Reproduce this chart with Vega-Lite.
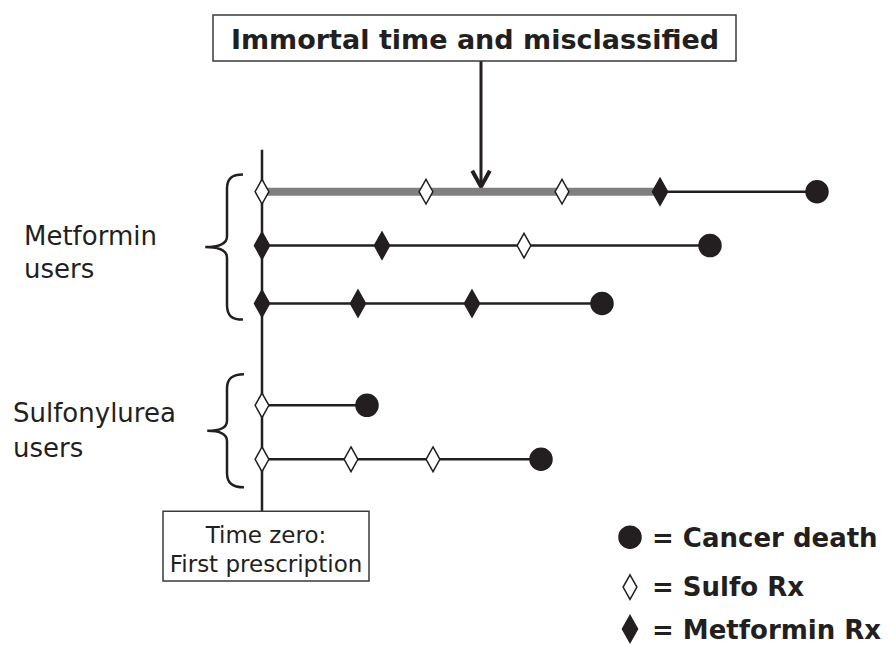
{
  "$schema": "https://vega.github.io/schema/vega-lite/v6.json",
  "width": 891,
  "height": 646,
  "padding": 0,
  "autosize": {"type": "fit", "contains": "padding"},
  "background": "white",
  "config": {"view": {"stroke": null}},
  "encoding": {
    "x": {"field": "t", "type": "quantitative", "scale": {"domain": [-262, 629], "nice": false, "zero": false}, "axis": null},
    "y": {"field": "y", "type": "quantitative", "scale": {"domain": [0, 646], "reverse": true, "nice": false, "zero": false}, "axis": null}
  },
  "layer": [
    {
      "data": {"values": [{"t": 0, "y": 150, "y2": 512}]},
      "mark": {"type": "rule", "color": "#231f20", "strokeWidth": 2.5},
      "encoding": {"y2": {"field": "y2"}}
    },
    {
      "data": {"values": [
        {"t": 219, "y": 61, "y2": 184}
      ]},
      "mark": {"type": "rule", "color": "#231f20", "strokeWidth": 3},
      "encoding": {"y2": {"field": "y2"}}
    },
    {
      "data": {"values": [{"t": 219, "y": 187}]},
      "mark": {"type": "point", "shape": "M-0.55,-1L0,0L0.55,-1", "size": 1024, "filled": false, "color": "#231f20", "strokeWidth": 4, "opacity": 1, "strokeJoin": "miter"}
    },
    {
      "data": {"values": [{"row": 1, "t": 0, "t2": 400, "y": 192}]},
      "mark": {"type": "rule", "color": "#7f7f7f", "strokeWidth": 8},
      "encoding": {"x2": {"field": "t2"}}
    },
    {
      "data": {"values": [
        {"row": 1, "t": 400, "t2": 555, "y": 192},
        {"row": 2, "t": 0, "t2": 448, "y": 246},
        {"row": 3, "t": 0, "t2": 340, "y": 304},
        {"row": 4, "t": 0, "t2": 105, "y": 406},
        {"row": 5, "t": 0, "t2": 279, "y": 460}
      ]},
      "mark": {"type": "rule", "color": "#231f20", "strokeWidth": 2.5},
      "encoding": {"x2": {"field": "t2"}}
    },
    {
      "data": {"values": [{"group": "Metformin users", "t": -35, "y": 247.5}]},
      "mark": {"type": "point", "shape": "M0.22,-1C0.07,-1 0,-0.95 0,-0.8L0,-0.15C0,-0.05 -0.1,0 -0.3,0C-0.1,0 0,0.05 0,0.15L0,0.8C0,0.95 0.07,1 0.22,1", "size": 21025, "filled": false, "color": "#231f20", "strokeWidth": 2.5, "opacity": 1}
    },
    {
      "data": {"values": [{"group": "Sulfonylurea users", "t": -35, "y": 431.5}]},
      "mark": {"type": "point", "shape": "M0.3,-1C0.1,-1 0,-0.93 0,-0.75L0,-0.18C0,-0.06 -0.12,0 -0.35,0C-0.12,0 0,0.06 0,0.18L0,0.75C0,0.93 0.1,1 0.3,1", "size": 12769, "filled": false, "color": "#231f20", "strokeWidth": 2.5, "opacity": 1}
    },
    {
      "data": {"values": [
        {"box": "top", "t": -49, "t2": 474, "y": 15, "y2": 61},
        {"box": "bottom", "t": -99, "t2": 107, "y": 512, "y2": 582}
      ]},
      "mark": {"type": "rect", "fill": "white", "stroke": "#3a3a3a", "strokeWidth": 1.5},
      "encoding": {"x2": {"field": "t2"}, "y2": {"field": "y2"}}
    },
    {
      "data": {"values": [
        {"row": 1, "t": 0, "y": 192, "event": "sulfo"},
        {"row": 1, "t": 164, "y": 192, "event": "sulfo"},
        {"row": 1, "t": 300, "y": 192, "event": "sulfo"},
        {"row": 1, "t": 398, "y": 192, "event": "metformin"},
        {"row": 1, "t": 555, "y": 192, "event": "death"},
        {"row": 2, "t": 0, "y": 246, "event": "metformin"},
        {"row": 2, "t": 120, "y": 246, "event": "metformin"},
        {"row": 2, "t": 262, "y": 246, "event": "sulfo"},
        {"row": 2, "t": 448, "y": 246, "event": "death"},
        {"row": 3, "t": 0, "y": 304, "event": "metformin"},
        {"row": 3, "t": 96, "y": 304, "event": "metformin"},
        {"row": 3, "t": 210, "y": 304, "event": "metformin"},
        {"row": 3, "t": 340, "y": 304, "event": "death"},
        {"row": 4, "t": 0, "y": 406, "event": "sulfo"},
        {"row": 4, "t": 105, "y": 406, "event": "death"},
        {"row": 5, "t": 0, "y": 460, "event": "sulfo"},
        {"row": 5, "t": 89, "y": 460, "event": "sulfo"},
        {"row": 5, "t": 171, "y": 460, "event": "sulfo"},
        {"row": 5, "t": 279, "y": 460, "event": "death"}
      ]},
      "mark": {"type": "point", "filled": true, "stroke": "#231f20", "strokeWidth": 1.5, "opacity": 1},
      "encoding": {
        "shape": {"field": "event", "type": "nominal", "scale": {"domain": ["death", "sulfo", "metformin"], "range": ["circle", "M0,-1L0.56,0L0,1L-0.56,0Z", "M0,-1L0.56,0L0,1L-0.56,0Z"]}, "legend": null},
        "fill": {"field": "event", "type": "nominal", "scale": {"domain": ["death", "sulfo", "metformin"], "range": ["#231f20", "#ffffff", "#231f20"]}, "legend": null},
        "size": {"field": "event", "type": "nominal", "scale": {"domain": ["death", "sulfo", "metformin"], "range": [484, 729, 729]}, "legend": null}
      }
    },
    {
      "data": {"values": [
        {"event": "death", "t": 368, "y": 538},
        {"event": "sulfo", "t": 368, "y": 588},
        {"event": "metformin", "t": 368, "y": 630}
      ]},
      "mark": {"type": "point", "filled": true, "stroke": "#231f20", "strokeWidth": 1.5, "opacity": 1},
      "encoding": {
        "shape": {"field": "event", "type": "nominal", "legend": null},
        "fill": {"field": "event", "type": "nominal", "legend": null},
        "size": {"field": "event", "type": "nominal", "legend": null}
      }
    },
    {
      "data": {"values": [
        {"label": "= Cancer death", "t": 390, "y": 548},
        {"label": "= Sulfo Rx", "t": 390, "y": 597},
        {"label": "= Metformin Rx", "t": 390, "y": 640}
      ]},
      "mark": {"type": "text", "align": "left", "baseline": "alphabetic", "font": "DejaVu Sans", "fontWeight": "bold", "fontSize": 26, "color": "#231f20"},
      "encoding": {"text": {"field": "label"}}
    },
    {
      "data": {"values": [{"label": "Immortal time and misclassified", "t": 213, "y": 49}]},
      "mark": {"type": "text", "align": "center", "baseline": "alphabetic", "font": "DejaVu Sans", "fontWeight": "bold", "fontSize": 27, "color": "#231f20"},
      "encoding": {"text": {"field": "label"}}
    },
    {
      "data": {"values": [
        {"label": "Time zero:", "t": 4, "y": 544},
        {"label": "First prescription", "t": 4, "y": 573}
      ]},
      "mark": {"type": "text", "align": "center", "baseline": "alphabetic", "font": "DejaVu Sans", "fontSize": 23, "color": "#231f20"},
      "encoding": {"text": {"field": "label"}}
    },
    {
      "data": {"values": [
        {"label": "Metformin", "t": -238, "y": 245},
        {"label": "users", "t": -238, "y": 278},
        {"label": "Sulfonylurea", "t": -249, "y": 423},
        {"label": "users", "t": -249, "y": 458}
      ]},
      "mark": {"type": "text", "align": "left", "baseline": "alphabetic", "font": "DejaVu Sans", "fontSize": 26, "color": "#231f20"},
      "encoding": {"text": {"field": "label"}}
    }
  ]
}
